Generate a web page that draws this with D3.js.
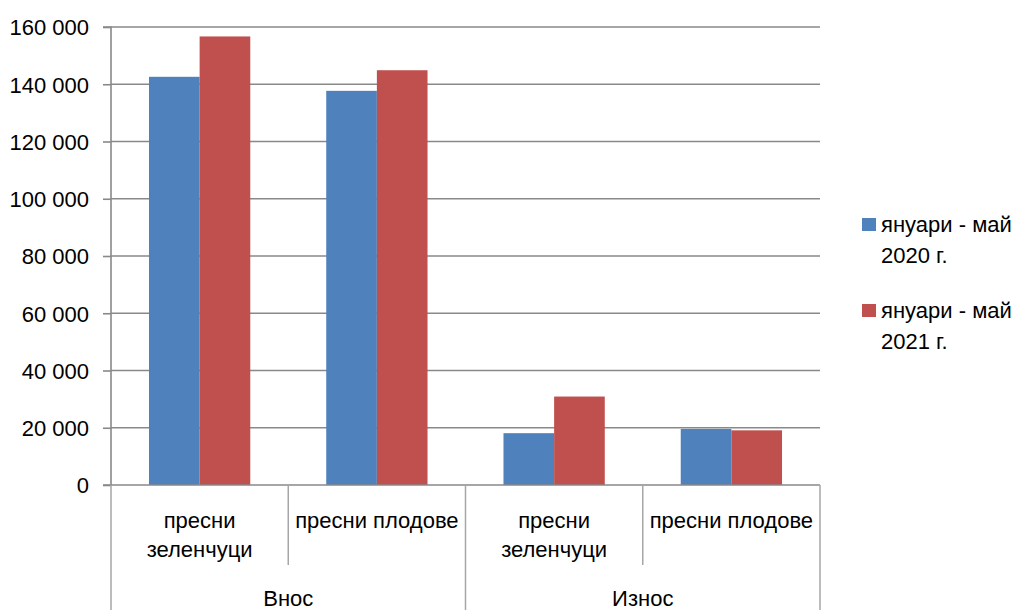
<!DOCTYPE html>
<html><head><meta charset="utf-8">
<script src="https://cdn.jsdelivr.net/npm/d3@7"></script>
<style>body{margin:0;background:#fff}text{font-family:"Liberation Sans",Arial,sans-serif;fill:#000}</style>
</head><body>
<svg id="c" width="1014" height="610"></svg>
<script>
const groups = ["Внос", "Износ"];
const categories = [
  {group: "Внос", label: ["пресни", "зеленчуци"]},
  {group: "Внос", label: ["пресни плодове"]},
  {group: "Износ", label: ["пресни", "зеленчуци"]},
  {group: "Износ", label: ["пресни плодове"]}
];
const seriesNames = [["януари - май", "2020 г."], ["януари - май", "2021 г."]];
const values2020 = [142600, 137700, 18100, 19600];
const values2021 = [156700, 144900, 30900, 19100];
const yTicks = [0, 20000, 40000, 60000, 80000, 100000, 120000, 140000, 160000];
const colors = ["#4f81bd", "#c0504d"];

const svg = d3.select("#c");
const L = 111, R = 820, T = 27, B = 485;
const x = d3.scaleBand().domain(d3.range(categories.length)).range([L, R]);
const bw = x.bandwidth() / 3.5;
const y = d3.scaleLinear().domain([0, 160000]).range([B, T]);
const fmt = v => d3.format(",")(v).replace(/,/g, " ");
const grey = "#898989";

// gridlines
svg.append("g").selectAll("line").data(yTicks.filter(d => d > 0)).join("line")
  .attr("x1", L).attr("x2", R).attr("y1", d => y(d)).attr("y2", d => y(d))
  .attr("stroke", grey).attr("stroke-width", 1.6);

// bars
const series = [values2020, values2021];
series.forEach((vals, si) => {
  svg.append("g").selectAll("rect").data(vals).join("rect")
    .attr("x", (d, i) => x(i) + x.bandwidth() / 2 - bw + si * bw)
    .attr("width", bw)
    .attr("y", d => y(d)).attr("height", d => B - y(d))
    .attr("fill", colors[si]);
});

// y axis
const yAxis = d3.axisLeft(y).tickValues(yTicks).tickSize(8).tickFormat(fmt);
const ya = svg.append("g").attr("transform", `translate(${L},0)`).call(yAxis);
ya.select(".domain").attr("stroke", grey).attr("stroke-width", 1.6).attr("d", `M-8,${T}H0V${B}H-8`);
ya.selectAll(".tick line").attr("stroke", grey).attr("stroke-width", 1.6);
ya.selectAll(".tick text").attr("x", -22).attr("dy", "0.36em").style("font-size", "22px").style("font-family", "'Liberation Sans',Arial,sans-serif").attr("fill", "#000");

// x axis baseline
svg.append("line").attr("x1", L).attr("x2", R).attr("y1", B).attr("y2", B).attr("stroke", grey).attr("stroke-width", 1.6);

const catGrey = "#a6a6a6";
// inner category dividers
d3.range(categories.length + 1).forEach(i => {
  const xx = i < categories.length ? x(i) : R;
  const isGroup = (i === 0 || i === categories.length || categories[i].group !== categories[i - 1].group);
  svg.append("line").attr("x1", xx).attr("x2", xx).attr("y1", B).attr("y2", isGroup ? 610 : 565)
    .attr("stroke", catGrey).attr("stroke-width", 1.5);
});

// category labels
categories.forEach((c, i) => {
  const cx = x(i) + x.bandwidth() / 2;
  const t = svg.append("text").attr("x", cx).attr("text-anchor", "middle").style("font-size", "22px");
  c.label.forEach((ln, k) => t.append("tspan").attr("x", cx).attr("y", 528 + k * 29).text(ln));
});
// group labels
groups.forEach(g => {
  const idx = categories.map((c, i) => c.group === g ? i : -1).filter(i => i >= 0);
  const x0 = x(idx[0]), x1 = x(idx[idx.length - 1]) + x.bandwidth();
  svg.append("text").attr("x", (x0 + x1) / 2).attr("y", 606).attr("text-anchor", "middle").style("font-size", "22px").text(g);
});

// legend
seriesNames.forEach((nm, i) => {
  const y0 = 218 + i * 86;
  svg.append("rect").attr("x", 862).attr("y", y0).attr("width", 14).attr("height", 13).attr("fill", colors[i]);
  const t = svg.append("text").style("font-size", "22px");
  t.append("tspan").attr("x", 881).attr("y", y0 + 14).text(nm[0]);
  t.append("tspan").attr("x", 881).attr("y", y0 + 45).text(nm[1]);
});
</script>
</body></html>
